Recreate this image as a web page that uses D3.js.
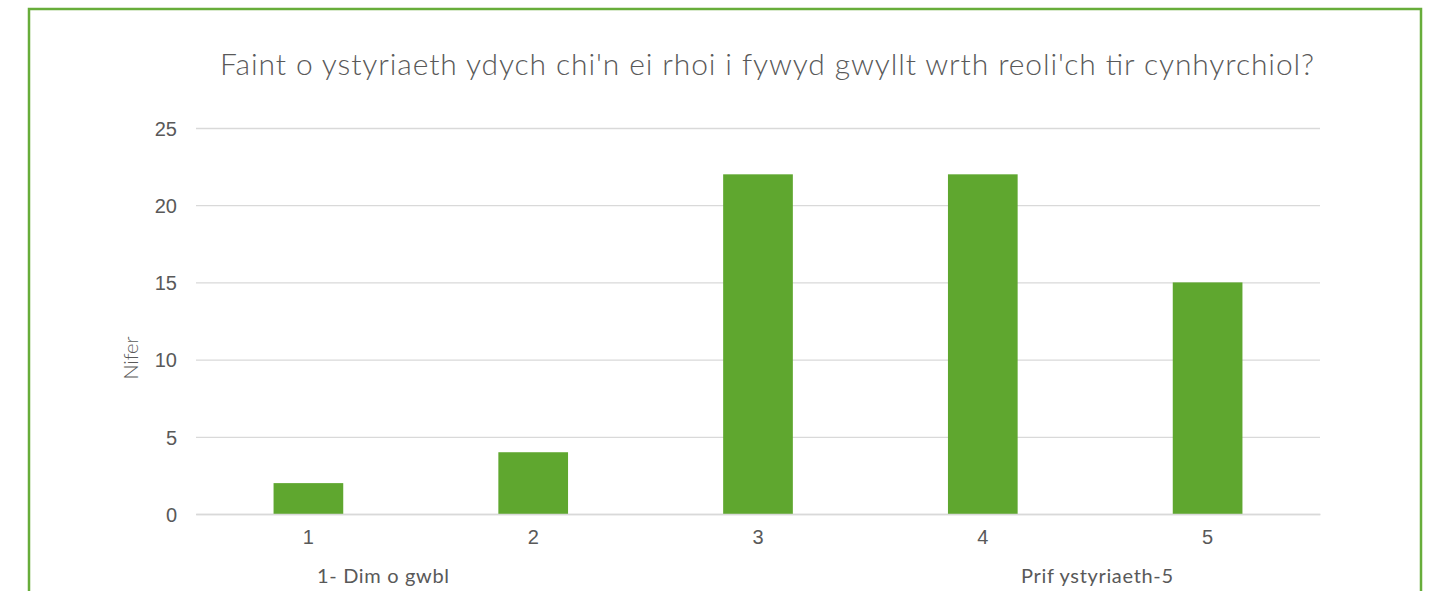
<!DOCTYPE html>
<html lang="en">
<head>
<meta charset="UTF-8">
<title>Faint o ystyriaeth</title>
<style type="text/css">
    body { margin: 0; background: #fff; }
    svg { display: block; }
    .label { fill: #595959; font-family: Lato, "Open Sans", sans-serif; }
</style>
</head>
<body>
<div id="chart"></div>
<script src="https://cdnjs.cloudflare.com/ajax/libs/d3/7.8.5/d3.min.js"></script>
<script type="text/javascript">
    var categories = ["1", "2", "3", "4", "5"];
    var counts = [2, 4, 22, 22, 15];
    var yTicks = [0, 5, 10, 15, 20, 25];
    var title = "Faint o ystyriaeth ydych chi'n ei rhoi i fywyd gwyllt wrth reoli'ch tir cynhyrchiol?";
    var yLabel = "Nifer";
    var lowLabel = "1- Dim o gwbl";
    var highLabel = "Prif ystyriaeth-5";

    var width = 1446, height = 591;
    var plotLeft = 196, plotRight = 1320, plotTop = 128, plotBottom = 514;

    var svg = d3.select("#chart").append("svg")
        .attr("width", width)
        .attr("height", height);

    // green frame, runs past the bottom of the picture
    svg.append("rect")
        .attr("x", 29).attr("y", 9)
        .attr("width", 1392).attr("height", 700)
        .attr("fill", "none")
        .attr("stroke", "#67ad3a")
        .attr("stroke-width", 2.5);

    var x = d3.scaleBand().domain(categories).range([plotLeft, plotRight]).paddingInner(0.69).paddingOuter(0.345);
    var y = d3.scaleLinear().domain([0, 25]).range([plotBottom, plotTop]);

    // gridlines + y labels
    var yAxis = svg.append("g")
        .attr("transform", "translate(" + plotLeft + ",0)")
        .call(d3.axisLeft(y).tickValues(yTicks).tickSize(-(plotRight - plotLeft)).tickPadding(19));
    yAxis.attr("font-family", "'Liberation Sans', Arial, sans-serif").attr("font-size", 20);
    yAxis.select(".domain").remove();
    yAxis.selectAll(".tick line").attr("stroke", "#d9d9d9").attr("stroke-width", 1.3);
    yAxis.selectAll(".tick text").attr("dy", "0.36em").attr("fill", "#595959");

    svg.selectAll(".bar")
        .data(counts)
        .enter().append("rect")
        .attr("class", "bar")
        .attr("x", (d, i) => x(categories[i]))
        .attr("y", d => y(d))
        .attr("width", x.bandwidth())
        .attr("height", d => y(0) - y(d))
        .attr("fill", "#5fa72f");

    // x axis
    var xAxis = svg.append("g")
        .attr("transform", "translate(0," + plotBottom + ")")
        .call(d3.axisBottom(x).tickSize(0).tickPadding(16));
    xAxis.attr("font-family", "'Liberation Sans', Arial, sans-serif").attr("font-size", 20);
    xAxis.select(".domain").attr("stroke", "#d9d9d9").attr("stroke-width", 1.5);
    xAxis.selectAll(".tick text").attr("fill", "#595959");

    svg.append("text")
        .attr("class", "label")
        .attr("x", 767).attr("y", 75)
        .attr("text-anchor", "middle")
        .attr("font-size", 30)
        .attr("font-weight", 300)
        .attr("textLength", 1094)
        .text(title);

    svg.append("text")
        .attr("class", "label")
        .attr("transform", "translate(138,358) rotate(-90)")
        .attr("text-anchor", "middle")
        .attr("font-size", 20)
        .attr("font-weight", 300)
        .attr("textLength", 43)
        .text(yLabel);

    svg.append("text")
        .attr("class", "label")
        .attr("x", 317).attr("y", 583)
        .attr("font-size", 20)
        .attr("textLength", 132)
        .text(lowLabel);

    svg.append("text")
        .attr("class", "label")
        .attr("x", 1021).attr("y", 583)
        .attr("font-size", 20)
        .attr("textLength", 152)
        .text(highLabel);
</script>
</body>
</html>
